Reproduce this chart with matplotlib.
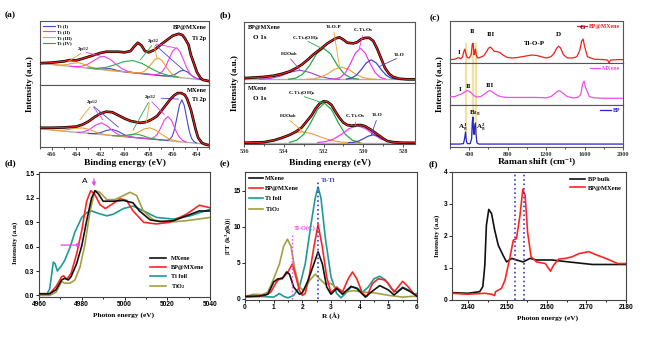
import numpy as np
import matplotlib
matplotlib.use('Agg')
import matplotlib.pyplot as plt

plt.rcParams['font.family'] = ['Liberation Serif', 'DejaVu Serif']
plt.rcParams['font.weight'] = 'bold'
plt.rcParams['mathtext.fontset'] = 'stix'
plt.rcParams['mathtext.default'] = 'regular'

# ---------------- (a) Ti 2p XPS, intensities as fraction of sub-panel height
a_top_env_x = [467, 466, 465, 464.5, 464, 463.5, 463, 462.5, 462, 461.5, 461, 460.5, 460, 459.5, 459.2, 458.9,
               458.6, 458.3, 458, 457.5, 457, 456.5, 456, 455.5, 455.2, 455, 454.7, 454.5, 454.2, 454, 453.7, 453.5, 453]
a_top_env_y = [0.34, 0.35, 0.37, 0.39, 0.385, 0.41, 0.44, 0.47, 0.50, 0.52, 0.52, 0.52, 0.51, 0.53, 0.60, 0.66,
               0.62, 0.53, 0.51, 0.55, 0.63, 0.70, 0.77, 0.80, 0.78, 0.73, 0.63, 0.47, 0.31, 0.20, 0.11, 0.08, 0.06]
a_top_bg_x = [467, 453]
a_top_bg_y = [0.34, 0.07]
a_top_ti1_x = [462.5, 461.8, 461.2, 460.6, 460.0, 457.0, 456.3, 455.8, 455.4, 455.1, 454.8, 454.4, 454.0, 453.5]
a_top_ti1_y = [0.253, 0.25, 0.258, 0.227, 0.205, 0.147, 0.139, 0.169, 0.216, 0.23, 0.205, 0.142, 0.10, 0.08]
a_top_ti2_x = [464.5, 464, 463.5, 463, 462.5, 462, 461.7, 461.2, 460.7, 460.2, 459.7, 459.2,
               457.5, 457.2, 456.9, 456.6, 456.3, 456.0, 455.7, 455.4, 455.1, 454.8, 454.5, 454.2, 453.9]
a_top_ti2_y = [0.293, 0.287, 0.295, 0.328, 0.387, 0.441, 0.448, 0.404, 0.324, 0.253, 0.213, 0.193,
               0.162, 0.17, 0.205, 0.285, 0.41, 0.533, 0.582, 0.521, 0.386, 0.251, 0.159, 0.112, 0.092]
a_top_ti3_x = [465.8, 465.3, 464.8, 464.3, 463.8, 463.3, 462.8, 462.3, 461.8, 459.0, 458.7, 458.4, 458.1, 457.8,
               457.5, 457.2, 456.9, 456.6, 456.3, 456.0, 455.7, 455.4]
a_top_ti3_y = [0.317, 0.311, 0.318, 0.339, 0.348, 0.32, 0.279, 0.253, 0.24, 0.189, 0.191, 0.209, 0.254, 0.325,
               0.395, 0.421, 0.383, 0.301, 0.22, 0.163, 0.133, 0.119]
a_top_ti4_x = [463.05, 462.3, 461.55, 460.8, 460.05, 459.3, 458.55, 457.8, 457.05, 456.3, 455.55]
a_top_ti4_y = [0.266, 0.261, 0.275, 0.315, 0.366, 0.382, 0.337, 0.258, 0.188, 0.146, 0.121]

a_bot_env_x = [467, 466, 465, 464, 463.5, 463, 462.5, 462, 461.5, 461, 460.5, 460, 459.5, 459, 458.7, 458.3, 458,
               457.6, 457.3, 457, 456.6, 456.2, 455.9, 455.6, 455.3, 455, 454.8, 454.5, 454.3, 454.1, 453.9, 453.6,
               453.3, 453]
a_bot_env_y = [0.31, 0.31, 0.315, 0.33, 0.36, 0.41, 0.48, 0.54, 0.57, 0.56, 0.51, 0.46, 0.42, 0.40, 0.39, 0.40, 0.42,
               0.46, 0.50, 0.57, 0.67, 0.77, 0.83, 0.87, 0.87, 0.84, 0.77, 0.60, 0.44, 0.28, 0.15, 0.07, 0.04, 0.03]
a_bot_bg_x = [467, 453]
a_bot_bg_y = [0.29, 0.042]
a_bot_ti1_x = [463, 462.5, 462, 461.5, 461, 460.5, 460, 459.5, 459, 456.45, 456.25, 456.05, 455.85, 455.65, 455.45,
               455.25, 455.05, 454.85, 454.65, 454.45, 454.25, 454.05]
a_bot_ti1_y = [0.22, 0.216, 0.231, 0.267, 0.284, 0.249, 0.195, 0.163, 0.15, 0.108, 0.122, 0.171, 0.29, 0.483, 0.676,
               0.762, 0.669, 0.469, 0.269, 0.143, 0.086, 0.066]
a_bot_ti2_x = [463.9, 463.4, 462.9, 462.4, 461.9, 461.4, 460.9, 460.4, 459.9, 457.9, 457.6, 457.3, 457.0, 456.7,
               456.4, 456.1, 455.8, 455.5, 455.2, 454.9]
a_bot_ti2_y = [0.237, 0.243, 0.282, 0.353, 0.39, 0.335, 0.247, 0.19, 0.166, 0.134, 0.149, 0.2, 0.308, 0.436,
               0.492, 0.425, 0.287, 0.169, 0.106, 0.081]
a_bot_ti3_x = [466, 465.5, 465, 464.5, 464, 463.5, 463, 462.5, 462, 461.5, 461, 460.4, 459.9, 459.4, 458.9, 458.4,
               457.9, 457.4, 456.9, 456.4, 455.9, 455.4]
a_bot_ti3_y = [0.273, 0.268, 0.272, 0.286, 0.304, 0.308, 0.286, 0.25, 0.219, 0.198, 0.185, 0.175, 0.175, 0.193,
               0.236, 0.289, 0.309, 0.271, 0.201, 0.14, 0.105, 0.087]
a_bot_ti4_x = [461, 460.5, 460, 459.5, 459, 458.5, 458, 457.5, 457]
a_bot_ti4_y = [0.184, 0.179, 0.183, 0.201, 0.209, 0.184, 0.148, 0.126, 0.113]

# ---------------- (b) O 1s XPS
b_top_env_x = [536, 535.5, 535, 534.5, 534.1, 533.7, 533.4, 533.1, 532.8, 532.5, 532.1, 531.8, 531.4, 531.2, 531.0,
               530.8, 530.5, 530.3, 530.1, 529.9, 529.7, 529.5, 529.3, 529.1, 528.9, 528.7, 528.5, 528.2, 527.8, 527.4]
b_top_env_y = [0.08, 0.09, 0.10, 0.12, 0.15, 0.19, 0.24, 0.30, 0.38, 0.47, 0.57, 0.65, 0.73, 0.75, 0.71,
               0.66, 0.65, 0.67, 0.72, 0.74, 0.74, 0.69, 0.56, 0.40, 0.24, 0.15, 0.10, 0.07, 0.06, 0.06]
b_top_bg_x = [536, 527.4]
b_top_bg_y = [0.06, 0.06]
b_top_h2o_x = [535.2, 534.7, 534.2, 533.7, 533.2, 532.7, 532.2, 531.7, 531.2]
b_top_h2o_y = [0.062, 0.073, 0.111, 0.174, 0.21, 0.174, 0.111, 0.073, 0.062]
b_top_oh_x = [533.75, 533.4, 533.05, 532.7, 532.35, 532.0, 531.65, 531.3, 530.95, 530.6, 530.25]
b_top_oh_y = [0.063, 0.08, 0.144, 0.288, 0.478, 0.57, 0.478, 0.288, 0.144, 0.08, 0.063]
b_top_top_x = [532.85, 532.5, 532.15, 531.8, 531.45, 531.1, 530.75, 530.4, 530.05, 529.7, 529.35]
b_top_top_y = [0.061, 0.068, 0.093, 0.149, 0.224, 0.26, 0.224, 0.149, 0.093, 0.068, 0.061]
b_top_ox_x = [531.4, 531.15, 530.9, 530.65, 530.4, 530.15, 529.9, 529.65, 529.4, 529.15, 528.9]
b_top_ox_y = [0.067, 0.092, 0.167, 0.315, 0.488, 0.57, 0.488, 0.315, 0.167, 0.092, 0.067]
b_top_tio_x = [530.85, 530.6, 530.35, 530.1, 529.85, 529.6, 529.35, 529.1, 528.85, 528.6, 528.35]
b_top_tio_y = [0.064, 0.08, 0.127, 0.22, 0.329, 0.38, 0.329, 0.22, 0.127, 0.08, 0.064]

b_bot_env_x = [536, 535.5, 535, 534.5, 534.1, 533.7, 533.4, 533.1, 532.9, 532.6, 532.4, 532.2, 532.0, 531.8, 531.6,
               531.4, 531.2, 531.0, 530.8, 530.6, 530.3, 530.1, 529.9, 529.6, 529.3, 529.0, 528.8, 528.5, 528, 527.4]
b_bot_env_y = [0.02, 0.025, 0.03, 0.06, 0.10, 0.15, 0.20, 0.27, 0.35, 0.47, 0.58, 0.66, 0.70, 0.69, 0.64,
               0.53, 0.43, 0.35, 0.31, 0.30, 0.31, 0.31, 0.29, 0.23, 0.16, 0.09, 0.05, 0.03, 0.02, 0.02]
b_bot_bg_x = [536, 527.4]
b_bot_bg_y = [0.02, 0.02]
b_bot_h2o_x = [536, 535.5, 535, 534.5, 534, 533.5, 533.1, 532.6, 532.1, 531.6, 531.1, 530.6, 530.1]
b_bot_h2o_y = [0.021, 0.023, 0.035, 0.066, 0.123, 0.181, 0.2, 0.171, 0.11, 0.058, 0.031, 0.022, 0.02]
b_bot_oh_x = [533.7, 533.35, 533.0, 532.65, 532.3, 531.95, 531.6, 531.25, 530.9, 530.55, 530.2]
b_bot_oh_y = [0.028, 0.061, 0.157, 0.345, 0.566, 0.67, 0.566, 0.345, 0.157, 0.061, 0.028]
b_bot_ox_x = [532.3, 531.9, 531.5, 531.1, 530.7, 530.3, 529.9, 529.5, 529.1, 528.7, 528.3]
b_bot_ox_y = [0.024, 0.038, 0.079, 0.16, 0.255, 0.30, 0.255, 0.16, 0.079, 0.038, 0.024]
b_bot_tio_x = [530.75, 530.5, 530.25, 530.0, 529.75, 529.5, 529.25, 529.0, 528.75, 528.5, 528.25]
b_bot_tio_y = [0.022, 0.028, 0.047, 0.085, 0.129, 0.15, 0.129, 0.085, 0.047, 0.028, 0.022]

# ---------------- (c) Raman
raman_red_x = [200, 250, 290, 310, 330, 345, 355, 365, 380, 400, 420, 432, 440, 450, 458, 465, 472, 485, 510, 550,
               580, 600, 620, 640, 660, 690, 720, 750, 800, 850, 900, 950, 1000, 1050, 1100, 1150, 1200, 1250, 1280,
               1310, 1330, 1350, 1380, 1420, 1480, 1520, 1550, 1570, 1585, 1600, 1630, 1700, 1800, 1840, 1855, 1870,
               1950, 2000]
raman_red_y = [0.08, 0.09, 0.13, 0.10, 0.14, 0.28, 0.33, 0.22, 0.13, 0.12, 0.2, 0.45, 0.47, 0.2, 0.25, 0.33, 0.2,
               0.12, 0.13, 0.17, 0.27, 0.35, 0.38, 0.33, 0.28, 0.27, 0.25, 0.19, 0.13, 0.12, 0.13, 0.15, 0.17, 0.19,
               0.18, 0.15, 0.12, 0.15, 0.22, 0.35, 0.40, 0.36, 0.2, 0.12, 0.12, 0.15, 0.3, 0.52, 0.57, 0.4, 0.15,
               0.09, 0.08, 0.07, 0.0, 0.07, 0.08, 0.08]
raman_mag_x = [200, 250, 290, 320, 350, 380, 400, 420, 450, 480, 520, 560, 590, 610, 630, 660, 700, 750, 800, 900,
               1000, 1100, 1200, 1250, 1290, 1320, 1340, 1370, 1420, 1480, 1530, 1560, 1580, 1595, 1610, 1650, 1700,
               1800, 1900, 2000]
raman_mag_y = [0.2, 0.2, 0.24, 0.26, 0.31, 0.34, 0.33, 0.29, 0.22, 0.19, 0.2, 0.26, 0.32, 0.34, 0.33, 0.28, 0.22,
               0.19, 0.18, 0.18, 0.18, 0.18, 0.17, 0.2, 0.27, 0.33, 0.34, 0.29, 0.2, 0.17, 0.18, 0.25, 0.5, 0.57,
               0.42, 0.2, 0.17, 0.16, 0.16, 0.16]
raman_blue_x = [200, 300, 340, 352, 362, 370, 380, 410, 425, 432, 439, 445, 451, 457, 465, 471, 480, 500, 600, 800,
                1000, 1200, 1400, 1600, 1800, 2000]
raman_blue_y = [0.07, 0.07, 0.08, 0.2, 0.36, 0.15, 0.08, 0.08, 0.2, 0.6, 0.71, 0.35, 0.3, 0.5, 0.57, 0.3, 0.1, 0.07,
                0.07, 0.07, 0.07, 0.07, 0.07, 0.07, 0.07, 0.07]
raman_bands = [362, 439, 467]

# ---------------- (d) Ti K-edge XANES
d_mx_x = [4960, 4965, 4968, 4970.6, 4972, 4973.7, 4975, 4977.6, 4980, 4982.3, 4984.6, 4986.2, 4987.8, 4990, 4994.8,
          4999.5, 5004, 5007, 5012, 5016.6, 5022.9, 5029, 5035, 5040]
d_mx_y = [0.02, 0.02, 0.07, 0.19, 0.21, 0.19, 0.23, 0.39, 0.61, 0.92, 1.2, 1.29, 1.25, 1.16, 1.16,
          1.17, 1.14, 1.04, 0.93, 0.91, 0.92, 0.98, 1.04, 1.04]
d_bp_x = [4960, 4965, 4968, 4970.6, 4971.5, 4973, 4975, 4977.6, 4980, 4982.3, 4984.2, 4986, 4988.5, 4991, 4994, 4998,
          5001, 5004, 5009, 5015, 5021, 5029, 5035, 5040]
d_bp_y = [0.02, 0.02, 0.11, 0.23, 0.24, 0.20, 0.27, 0.51, 0.80, 1.16, 1.29, 1.25, 1.12, 1.07, 1.12, 1.19,
          1.17, 1.04, 0.90, 0.88, 0.90, 1.0, 1.11, 1.08]
d_ti_x = [4960, 4963.6, 4965, 4966.7, 4967.5, 4968.6, 4970.6, 4972, 4974.5, 4976.8, 4980, 4982.3, 4984.6, 4987.8,
          4991.7, 4994.8, 4999.5, 5004, 5009, 5015, 5022.9, 5030.7, 5040]
d_ti_y = [0.0, 0.01, 0.08, 0.41, 0.39, 0.30, 0.37, 0.43, 0.59, 0.78, 0.96, 1.02, 1.04, 1.01,
          0.98, 1.0, 1.07, 1.10, 1.04, 0.96, 0.94, 0.98, 1.06]
d_tio2_x = [4960, 4965, 4968, 4970.6, 4972, 4974.5, 4976.8, 4979.2, 4981.5, 4983.9, 4986.2, 4988.5, 4991.7, 4995.6,
            4999.5, 5002.6, 5005.7, 5008.8, 5013.5, 5019.7, 5029, 5040]
d_tio2_y = [0.0, 0.0, 0.04, 0.17, 0.15, 0.15, 0.19, 0.35, 0.63, 1.04, 1.29, 1.27, 1.18, 1.18,
            1.23, 1.27, 1.23, 1.04, 0.93, 0.90, 0.92, 0.96]

# ---------------- (e) EXAFS FT
e_mx_x = [0, 0.5, 0.8, 1.0, 1.15, 1.3, 1.45, 1.55, 1.7, 1.9, 2.0, 2.2, 2.4, 2.55, 2.7, 2.85, 3.0, 3.2, 3.4, 3.7,
          3.9, 4.2, 4.4, 4.7, 5.0, 5.2, 5.5, 5.8, 6.0]
e_mx_y = [0.3, 0.35, 0.6, 2.3, 2.75, 2.75, 3.7, 3.4, 1.6, 0.6, 0.8, 2.5, 4.8, 6.5, 4.8, 1.6, 0.6, 1.4, 0.6, 1.7,
          1.4, 0.2, 0.9, 1.8, 1.2, 0.5, 1.5, 0.9, 0.3]
e_bp_x = [0, 0.5, 0.7, 0.9, 1.1, 1.2, 1.35, 1.5, 1.65, 1.75, 1.9, 2.0, 2.1, 2.25, 2.4, 2.55, 2.7, 2.85, 3.0, 3.2,
          3.4, 3.6, 3.75, 3.9, 4.1, 4.25, 4.45, 4.65, 4.85, 5.0, 5.2, 5.5, 5.7, 5.9, 6.0]
e_bp_y = [0.2, 0.3, 0.45, 0.9, 2.3, 2.75, 3.0, 3.7, 4.8, 3.4, 1.1, 0.45, 0.7, 3.4, 7.1, 10.3, 7.1, 3.0, 0.8, 1.6,
          0.9, 2.75, 3.7, 2.75, 0.7, 0.3, 2.1, 2.75, 2.6, 2.1, 0.9, 2.4, 1.6, 0.6, 0.45]
e_ti_x = [0, 0.5, 1.0, 1.2, 1.35, 1.5, 1.7, 1.9, 2.1, 2.3, 2.45, 2.55, 2.65, 2.8, 3.0, 3.2, 3.35, 3.5, 3.7, 3.9,
          4.1, 4.3, 4.5, 4.7, 4.9, 5.1, 5.3, 5.5, 5.7, 5.9, 6.0]
e_ti_y = [0.3, 0.3, 0.2, 0.7, 0.3, 0.1, 0.45, 1.6, 4.8, 10.3, 14.0, 15.5, 14.0, 8.5, 3.0, 0.7, 0.1, 0.7, 1.6, 1.5,
          0.9, 1.6, 2.75, 3.1, 2.6, 1.4, 0.9, 1.6, 1.2, 0.6, 0.7]
e_tio2_x = [0, 0.3, 0.6, 0.8, 1.0, 1.2, 1.35, 1.48, 1.6, 1.75, 1.9, 2.05, 2.25, 2.45, 2.6, 2.8, 3.0, 3.2, 3.5, 3.8,
            4.1, 4.5, 5.0, 5.5, 5.8, 6.0]
e_tio2_y = [0.3, 0.6, 0.55, 0.9, 2.75, 4.8, 7.3, 8.25, 7.3, 3.9, 1.6, 1.1, 2.5, 3.4, 2.75, 2.0, 2.1, 1.4, 0.9, 1.1,
            0.9, 0.8, 0.45, 0.2, 0.3, 0.3]
e_tio_r = 1.65
e_titi_r = 2.55

# ---------------- (f) P K-edge XANES
f_bulk_x = [2136, 2140, 2143, 2143.8, 2144.3, 2144.7, 2145.3, 2146, 2146.8, 2147.7, 2148.9, 2149.8, 2151.1, 2152.3,
            2154, 2155.7, 2157.4, 2161.3, 2165.5, 2171.5, 2180]
f_bulk_y = [0.23, 0.21, 0.26, 0.42, 1.09, 2.34, 2.83, 2.70, 2.18, 1.71, 1.40, 1.19, 1.30, 1.25,
            1.19, 1.30, 1.25, 1.25, 1.19, 1.11, 1.11]
f_bpmx_x = [2136, 2140, 2144.3, 2146, 2146.8, 2147, 2148.5, 2149.4, 2150.6, 2151.5, 2152.3, 2153.2, 2153.9, 2154.5,
            2155.1, 2156, 2157.4, 2159.6, 2160.9, 2161.7, 2163, 2164.7, 2166.4, 2168.1, 2170.6, 2172.3, 2174.9,
            2177.9, 2180]
f_bpmx_y = [0.21, 0.18, 0.21, 0.18, 0.14, 0.26, 0.36, 0.62, 1.30, 1.87, 1.92, 2.65, 3.46, 3.27,
            2.13, 1.35, 1.19, 1.14, 0.90, 1.09, 1.28, 1.30, 1.35, 1.45, 1.51, 1.42, 1.30, 1.14, 1.14]
f_marks = [2151.9, 2154.2]

W, H = 648, 337
SANS = ['Liberation Sans', 'DejaVu Sans']

fig = plt.figure(figsize=(W / 100, H / 100), dpi=100)


def box(x0, y0, x1, y1):
    return [x0 / W, 1 - y1 / H, (x1 - x0) / W, (y1 - y0) / H]


def ftext(x, y, s, **kw):
    kw.setdefault('ha', 'center')
    kw.setdefault('va', 'center')
    fig.text(x / W, 1 - y / H, s, **kw)


def xps_axes(rect, xlim, bottom):
    ax = fig.add_axes(rect)
    ax.set_xlim(*xlim)
    ax.set_ylim(0, 1)
    ax.set_yticks([])
    for s in ax.spines.values():
        s.set_linewidth(0.8)
        s.set_color('#555555')
    ax.tick_params(axis='x', which='both', direction='out', length=2, width=0.6, labelsize=4.5, pad=1.5,
                   colors='#333333')
    ax.tick_params(axis='x', which='minor', length=1.2)
    if not bottom:
        ax.tick_params(axis='x', which='both', length=0, labelbottom=False)
    return ax


C_BLUE, C_MAG, C_ORA, C_GRN = '#4747c8', '#f03cf0', '#f0a030', '#2aa84a'
C_RED, C_GRAY = '#e8201c', '#b0b0b0'


def envelope(ax, x, y):
    ax.plot(x, y, color='black', lw=1.9, zorder=4)
    ax.plot(x, y, color=C_RED, lw=0.9, zorder=5)


def note(ax, s, xy_text, targets, fs=3.8):
    ax.text(xy_text[0], xy_text[1], s, fontsize=fs, ha='center', va='center', zorder=7)
    for (tx, ty, col) in targets:
        ax.annotate('', xy=(tx, ty), xytext=(xy_text[0], xy_text[1] - 0.04),
                    arrowprops=dict(arrowstyle='-', color=col, lw=0.6, shrinkA=2, shrinkB=0), zorder=6)


# ---- (a)
ax = xps_axes(box(40, 21, 209, 85), (467, 453), False)
ax.plot(a_top_bg_x, a_top_bg_y, color=C_GRAY, lw=1.0, zorder=2)
ax.plot(a_top_ti1_x, a_top_ti1_y, color=C_BLUE, lw=0.8, label='Ti (I)', zorder=3)
ax.plot(a_top_ti2_x, a_top_ti2_y, color=C_MAG, lw=0.8, label='Ti (II)', zorder=3)
ax.plot(a_top_ti3_x, a_top_ti3_y, color=C_ORA, lw=0.8, label='Ti (III)', zorder=3)
ax.plot(a_top_ti4_x, a_top_ti4_y, color=C_GRN, lw=0.8, label='Ti (IV)', zorder=3)
envelope(ax, a_top_env_x, a_top_env_y)
ax.legend(loc='upper left', fontsize=3.6, frameon=False, handlelength=2.4, labelspacing=0.25,
          borderaxespad=0.15, handletextpad=0.5)
note(ax, '2p$_{1/2}$', (463.4, 0.56), [(464.7, 0.36, C_ORA), (462.0, 0.45, C_MAG)])
note(ax, '2p$_{3/2}$', (457.6, 0.69), [(458.7, 0.39, C_GRN), (457.3, 0.42, C_ORA), (455.8, 0.58, C_MAG),
                                       (455.1, 0.23, C_BLUE)])
ax.text(0.985, 0.93, 'BP@MXene', transform=ax.transAxes, ha='right', va='top', fontsize=4.6)
ax.text(0.985, 0.76, 'Ti 2p', transform=ax.transAxes, ha='right', va='top', fontsize=4.6)

ax = xps_axes(box(40, 85, 209, 147), (467, 453), True)
ax.set_xticks(np.arange(466, 453, -2))
ax.set_xticks(np.arange(467, 452, -1), minor=True)
ax.plot(a_bot_bg_x, a_bot_bg_y, color=C_GRAY, lw=1.0, zorder=2)
ax.plot(a_bot_ti1_x, a_bot_ti1_y, color=C_BLUE, lw=0.8, zorder=3)
ax.plot(a_bot_ti2_x, a_bot_ti2_y, color=C_MAG, lw=0.8, zorder=3)
ax.plot(a_bot_ti3_x, a_bot_ti3_y, color=C_ORA, lw=0.8, zorder=3)
ax.plot(a_bot_ti4_x, a_bot_ti4_y, color=C_GRN, lw=0.8, zorder=3)
envelope(ax, a_bot_env_x, a_bot_env_y)
note(ax, '2p$_{1/2}$', (462.7, 0.72), [(463.7, 0.44, C_ORA), (461.8, 0.44, C_MAG), (460.5, 0.32, C_BLUE)])
note(ax, '2p$_{3/2}$', (457.9, 0.80), [(459.3, 0.27, C_GRN), (458.2, 0.39, C_ORA), (456.7, 0.52, C_MAG)])
ax.annotate('', xy=(455.3, 0.77), xytext=(457.2, 0.79),
            arrowprops=dict(arrowstyle='-', color=C_BLUE, lw=0.6))
ax.text(0.985, 0.95, 'MXene', transform=ax.transAxes, ha='right', va='top', fontsize=4.6)
ax.text(0.985, 0.80, 'Ti 2p', transform=ax.transAxes, ha='right', va='top', fontsize=4.6)

ftext(30, 84, 'Intensity (a.u.)', rotation=90, fontsize=6.5)
ftext(125, 163, 'Binding energy (eV)', fontsize=6.8)

# ---- (b)
C_PUR = '#a040d0'
ax = xps_axes(box(244, 22, 415, 83), (536, 527.4), False)
ax.plot(b_top_bg_x, b_top_bg_y, color=C_GRAY, lw=1.0, zorder=2)
ax.plot(b_top_h2o_x, b_top_h2o_y, color=C_PUR, lw=0.8, zorder=3)
ax.plot(b_top_oh_x, b_top_oh_y, color=C_GRN, lw=0.9, zorder=3)
ax.plot(b_top_top_x, b_top_top_y, color=C_ORA, lw=0.8, zorder=3)
ax.plot(b_top_ox_x, b_top_ox_y, color=C_MAG, lw=0.9, zorder=3)
ax.plot(b_top_tio_x, b_top_tio_y, color=C_BLUE, lw=0.9, zorder=3)
envelope(ax, b_top_env_x, b_top_env_y)
note(ax, 'H$_2$O$_{ads}$', (533.75, 0.47), [(533.2, 0.22, C_PUR)])
note(ax, 'C-Ti-(OH)$_x$', (532.9, 0.74), [(532.1, 0.57, C_GRN)])
note(ax, 'Ti-O-P', (531.5, 0.92), [(531.2, 0.27, C_ORA)])
note(ax, 'C-Ti-O$_x$', (530.0, 0.86), [(530.2, 0.57, C_MAG)])
note(ax, 'Ti-O', (528.2, 0.46), [(529.2, 0.27, C_BLUE)])
ax.text(0.02, 0.95, 'BP@MXene', transform=ax.transAxes, ha='left', va='top', fontsize=4.4)
ax.text(0.05, 0.78, 'O 1s', transform=ax.transAxes, ha='left', va='top', fontsize=5)

ax = xps_axes(box(244, 83, 415, 144), (536, 527.4), True)
ax.set_xticks(np.arange(536, 527, -2))
ax.set_xticks(np.arange(536, 527, -1), minor=True)
ax.plot(b_bot_bg_x, b_bot_bg_y, color=C_GRAY, lw=1.0, zorder=2)
ax.plot(b_bot_h2o_x, b_bot_h2o_y, color=C_ORA, lw=0.8, zorder=3)
ax.plot(b_bot_oh_x, b_bot_oh_y, color=C_GRN, lw=0.9, zorder=3)
ax.plot(b_bot_ox_x, b_bot_ox_y, color=C_MAG, lw=0.9, zorder=3)
ax.plot(b_bot_tio_x, b_bot_tio_y, color=C_BLUE, lw=0.9, zorder=3)
envelope(ax, b_bot_env_x, b_bot_env_y)
note(ax, 'H$_2$O$_{ads}$', (533.8, 0.46), [(533.0, 0.19, C_ORA)])
note(ax, 'C-Ti-(OH)$_x$', (533.1, 0.83), [(532.0, 0.67, C_GRN)])
note(ax, 'C-Ti-O$_x$', (530.4, 0.45), [(530.4, 0.30, C_MAG)])
note(ax, 'Ti-O', (529.3, 0.47), [(529.6, 0.15, C_BLUE)])
ax.text(0.02, 0.95, 'MXene', transform=ax.transAxes, ha='left', va='top', fontsize=4.4)
ax.text(0.05, 0.78, 'O 1s', transform=ax.transAxes, ha='left', va='top', fontsize=5)

ftext(235, 83, 'Intensity (a.u.)', rotation=90, fontsize=6.5)
ftext(330, 163, 'Binding energy (eV)', fontsize=6.8)

# ---- (c)
C_RRED, C_RMAG, C_RBLUE = '#ee2020', '#e850e8', '#2424c8'
C_BAND = '#f2e2a0'
rows = [(21, 63, raman_red_x, raman_red_y, C_RRED, 'BP@MXene', (0.0, 0.45)),
        (63, 105, raman_mag_x, raman_mag_y, C_RMAG, 'MXene', (0.0, 1.0)),
        (105, 147, raman_blue_x, raman_blue_y, C_RBLUE, 'BP', (0.3, 1.0))]
for i, (y0, y1, rx, ry, col, lab, band) in enumerate(rows):
    ax = xps_axes(box(450, y0, 623, y1), (200, 2000), i == 2)
    for b in raman_bands:
        ax.axvline(b, ymin=band[0], ymax=band[1], color=C_BAND, lw=1.6, zorder=1)
    ax.plot(rx, ry, color=col, lw=0.9, label=lab, zorder=3)
    ax.legend(loc='upper right', fontsize=4.2, frameon=False, handlelength=1.8, handletextpad=0.3,
              borderaxespad=0.1, labelcolor=col)
    if i == 2:
        ax.set_xticks([400, 800, 1200, 1600, 2000])
        ax.set_xticks(np.arange(200, 2001, 200), minor=True)
ax_top, ax_mid, ax_bot = fig.axes[-3], fig.axes[-2], fig.axes[-1]
for a_, s, x, y in [(ax_top, 'I', 290, 0.25), (ax_top, 'II', 435, 0.75), (ax_top, 'III', 630, 0.68),
                    (ax_top, 'Ti-O-P', 1080, 0.47), (ax_top, 'D', 1330, 0.67), (ax_top, 'G', 1580, 0.85),
                    (ax_mid, 'I', 300, 0.38), (ax_mid, 'II', 390, 0.45), (ax_mid, 'III', 610, 0.46),
                    (ax_bot, 'A$_g^1$', 330, 0.45), (ax_bot, 'B$_{2g}$', 455, 0.80), (ax_bot, 'A$_g^2$', 520, 0.45)]:
    a_.text(x, y, s, fontsize=5, ha='center', va='center', zorder=6)
ftext(440, 84, 'Intensity (a.u.)', rotation=90, fontsize=6.5)
ftext(537, 163, 'Raman shift (cm$^{-1}$)', fontsize=6.8)


def xas_axes(rect):
    ax = fig.add_axes(rect)
    for s in ax.spines.values():
        s.set_linewidth(0.8)
        s.set_color('#444444')
    ax.tick_params(which='both', direction='out', length=2, width=0.6, labelsize=4.8, pad=1.2)
    ax.tick_params(which='minor', length=1.2)
    for lbl in ax.get_xticklabels() + ax.get_yticklabels():
        lbl.set_family(SANS)
    return ax


def sans_ticks(ax):
    for lbl in ax.get_xticklabels() + ax.get_yticklabels():
        lbl.set_family(SANS)
        lbl.set_weight('bold')


C_TEAL, C_OLIVE, C_XRED = '#1f9a96', '#a3a043', '#ff2424'

# ---- (d)
ax = xas_axes(box(39, 172, 210, 297))
ax.plot(d_mx_x, d_mx_y, color='#111111', lw=1.2, label='MXene', zorder=4)
ax.plot(d_bp_x, d_bp_y, color=C_XRED, lw=1.2, label='BP@MXene', zorder=3)
ax.plot(d_ti_x, d_ti_y, color=C_TEAL, lw=1.2, label='Ti foil', zorder=2)
ax.plot(d_tio2_x, d_tio2_y, color=C_OLIVE, lw=1.2, label='TiO$_2$', zorder=2)
ax.set_xlim(4960, 5040)
ax.set_ylim(-0.02, 1.52)
ax.set_xticks([4960, 4980, 5000, 5020, 5040])
ax.set_xticks(np.arange(4960, 5041, 10), minor=True)
ax.set_yticks([0.0, 0.3, 0.6, 0.9, 1.2, 1.5])
ax.yaxis.set_major_formatter(matplotlib.ticker.FormatStrFormatter('%.1f'))
sans_ticks(ax)
ax.legend(loc='lower right', fontsize=4.5, frameon=False, handlelength=2.6, labelspacing=0.55,
          borderaxespad=0.5, bbox_to_anchor=(1.0, 0.0))
ax.text(4981.5, 1.40, 'A', fontsize=6, family=SANS, fontweight='normal', ha='center', va='center')
ax.annotate('', xy=(4985.7, 1.31), xytext=(4985.7, 1.47),
            arrowprops=dict(arrowstyle='-|>', color='#f040f0', lw=0.9, mutation_scale=5))
ax.annotate('', xy=(4981.0, 0.62), xytext=(4969.0, 0.62),
            arrowprops=dict(arrowstyle='-|>', color='#f040f0', lw=0.9, mutation_scale=5))
ftext(15, 243, 'Intensity (a.u)', rotation=90, fontsize=5)
ftext(124, 315, 'Photon energy (eV)', fontsize=5.3)

# ---- (e)
ax = xas_axes(box(245, 172, 417, 300))
ax.plot(e_mx_x, e_mx_y, color='#111111', lw=1.2, label='MXene', zorder=4)
ax.plot(e_bp_x, e_bp_y, color=C_XRED, lw=1.2, label='BP@MXene', zorder=3)
ax.plot(e_ti_x, e_ti_y, color=C_TEAL, lw=1.2, label='Ti foil', zorder=2)
ax.plot(e_tio2_x, e_tio2_y, color=C_OLIVE, lw=1.2, label='TiO$_2$', zorder=2)
ax.vlines(e_tio_r, 0, 9.0, colors='#f040f0', linestyles=':', lw=1.0, zorder=5)
ax.vlines(e_titi_r, 0, 16.4, colors='#3a3ad0', linestyles=':', lw=1.2, zorder=5)
ax.text(e_tio_r + 0.05, 9.8, 'Ti-O(C)', color='#f040f0', fontsize=4.6, ha='left', va='center')
ax.text(e_titi_r + 0.1, 16.4, 'Ti-Ti', color='#3a3ad0', fontsize=4.8, ha='left', va='center')
ax.set_xlim(0, 6)
ax.set_ylim(-0.2, 17.6)
ax.set_xticks(range(0, 7))
ax.set_xticks(np.arange(0, 6.01, 0.5), minor=True)
ax.set_yticks([0, 5, 10, 15])
sans_ticks(ax)
ax.legend(loc='upper left', fontsize=4.6, frameon=False, handlelength=2.2, labelspacing=0.7,
          borderaxespad=0.15, handletextpad=0.4)
ftext(228, 236, '|FT (k$^3\\chi$(k))|', rotation=90, fontsize=5)
ftext(331, 316, 'R (Å)', fontsize=5.3)

# ---- (f)
ax = xas_axes(box(452, 172, 626, 300))
ax.plot(f_bulk_x, f_bulk_y, color='#111111', lw=1.2, label='BP bulk', zorder=3)
ax.plot(f_bpmx_x, f_bpmx_y, color=C_XRED, lw=1.2, label='BP@MXene', zorder=4)
for m in f_marks:
    ax.axvline(m, color='#3a3ad0', ls=':', lw=1.2, zorder=5)
ax.set_xlim(2136, 2180)
ax.set_ylim(0, 4)
ax.set_xticks([2140, 2150, 2160, 2170, 2180])
ax.set_xticks(np.arange(2140, 2181, 5), minor=True)
ax.set_yticks([0, 1, 2, 3, 4])
sans_ticks(ax)
ax.legend(loc='upper right', fontsize=4.6, frameon=False, handlelength=2.4, labelspacing=0.5,
          borderaxespad=0.3, handletextpad=0.4)
ftext(437, 236, 'Intensity (a.u)', rotation=90, fontsize=5)
ftext(548, 318, 'Photon energy (eV)', fontsize=5.3)

# panel letters
for s, x, y in [('(a)', 10, 15), ('(b)', 225, 15), ('(c)', 435, 18),
                ('(d)', 10, 163), ('(e)', 225, 164), ('(f)', 433, 164)]:
    ftext(x, y, s, fontsize=6.8)

fig.savefig('out.png', dpi=100)
